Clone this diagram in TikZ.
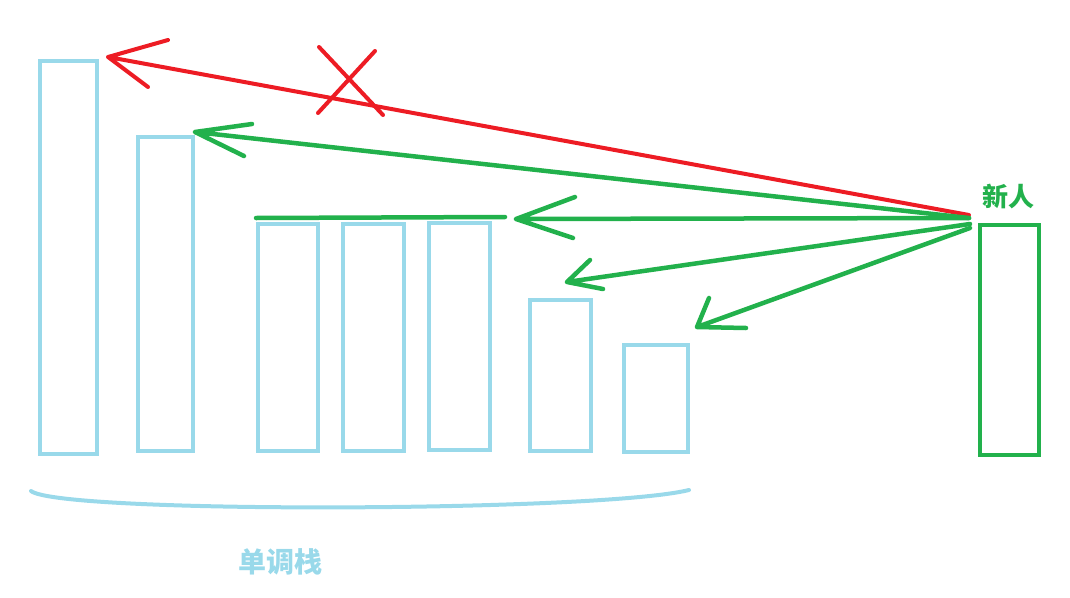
\documentclass[tikz,border=0pt]{standalone}
\usepackage{fontspec}
\newfontfamily\cjk{Noto Sans CJK SC}
\usetikzlibrary{calc}
\definecolor{stackblue}{RGB}{153,217,234}
\definecolor{newgreen}{RGB}{34,177,76}
\definecolor{crossred}{RGB}{237,28,36}
\tikzset{
  bar/.style={draw=stackblue,line width=4.5pt,inner sep=0pt},
  newbar/.style={bar,draw=newgreen},
  greenline/.style={draw=newgreen,line width=4.5pt,line cap=round,line join=round},
  redline/.style={draw=crossred,line width=4pt,line cap=round,line join=round},
  brace/.style={draw=stackblue,line width=4pt,line cap=round},
  label/.style={font=\cjk\bfseries\fontsize{26}{30}\selectfont,inner sep=0pt}
}

\begin{document}
\begin{tikzpicture}[x=1pt,y=-1pt]
  \useasboundingbox (0,0) rectangle (1070,597);

  % stack bars
  \node[bar,minimum width=57,minimum height=393] (b1) at (68.5,257.5) {};
  \node[bar,minimum width=55,minimum height=314] (b2) at (165.5,294) {};
  \node[bar,minimum width=60,minimum height=227] (b3) at (288,337.5) {};
  \node[bar,minimum width=61,minimum height=227] (b4) at (373.5,337.5) {};
  \node[bar,minimum width=61,minimum height=227] (b5) at (459.5,336.5) {};
  \node[bar,minimum width=61,minimum height=151] (b6) at (560.5,375.5) {};
  \node[bar,minimum width=64,minimum height=107] (b7) at (656,398.5) {};

  % new person
  \node[newbar,minimum width=59,minimum height=230] (nb) at (1009.5,340) {};
  \node[label,text=newgreen] (newlab) at (1008,197) {新人};

  \draw[greenline] (256,218) -- (505,217);

  % arrows
  \coordinate (src) at (969,218);
  \coordinate (tipR) at (108,57);
  \coordinate (tipA) at (195,132);
  \coordinate (tipB) at (516,219);
  \coordinate (tipC) at (567,282);
  \coordinate (tipD) at (697,327);

  \draw[redline] ($(src)+(0,-3)$) -- (tipR) -- (168,40) (tipR) -- (148,87);
  \draw[redline] (319,47) -- (383,115) (375,51) -- (318,113);

  \draw[greenline] (src) -- (tipA) -- (252,124) (tipA) -- (244,156);
  \draw[greenline] (src) -- (tipB) -- (575,197) (tipB) -- (573,238);
  \draw[greenline] ($(src)+(1,6)$) -- (tipC) -- (590,260) (tipC) -- (603,289);
  \draw[greenline] ($(src)+(1,10)$) -- (tipD) -- (709,298) (tipD) -- (746,328);

  % brace under the stack
  \draw[brace] (31,491) .. controls (60,514) and (600,512) .. (689,490);
  \node[label,text=stackblue,font=\cjk\bfseries\fontsize{28}{32}\selectfont] (stacklab) at (280,562) {单调栈};
\end{tikzpicture}
\end{document}
